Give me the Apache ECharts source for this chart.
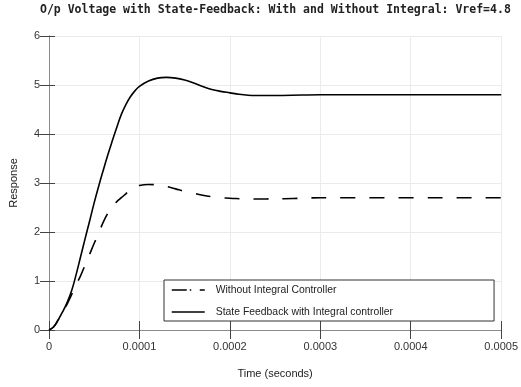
<!DOCTYPE html>
<html lang="en">
<head>
  <meta charset="UTF-8">
  <title>O/p Voltage with State-Feedback</title>
  <script src="https://cdn.jsdelivr.net/npm/echarts@6/dist/echarts.min.js"></script>
</head>
<body style="margin:0;background:#fff;">
  <div id="main" style="width:521px;height:387px;"></div>
<script>
  // time samples (seconds)
  const timeWithout = [0, 0.5e-5, 1.0e-5, 1.5e-5, 2.0e-5, 2.5e-5, 3.0e-5, 3.5e-5, 4.0e-5, 4.5e-5,
    5.0e-5, 5.5e-5, 6.0e-5, 6.5e-5, 7.0e-5, 7.5e-5, 8.0e-5, 8.5e-5, 9.0e-5, 9.5e-5,
    1.0e-4, 1.1e-4, 1.2e-4, 1.3e-4, 1.4e-4, 1.5e-4, 1.6e-4, 1.7e-4, 1.8e-4, 1.9e-4,
    2.0e-4, 2.2e-4, 2.4e-4, 2.6e-4, 2.8e-4, 3.0e-4, 5.0e-4];
  const respWithout = [0, 0.06, 0.20, 0.37, 0.53, 0.72, 0.92, 1.11, 1.33, 1.55,
    1.77, 1.98, 2.20, 2.38, 2.52, 2.62, 2.70, 2.78, 2.86, 2.91,
    2.95, 2.97, 2.96, 2.93, 2.88, 2.83, 2.79, 2.75, 2.72, 2.70,
    2.69, 2.675, 2.675, 2.68, 2.69, 2.70, 2.70];

  const timeWith = [0, 0.5e-5, 1.0e-5, 1.5e-5, 2.0e-5, 2.5e-5, 3.0e-5, 3.5e-5, 4.0e-5, 4.5e-5,
    5.0e-5, 5.5e-5, 6.0e-5, 6.5e-5, 7.0e-5, 7.5e-5, 8.0e-5, 8.5e-5, 9.0e-5, 9.5e-5,
    1.0e-4, 1.1e-4, 1.2e-4, 1.3e-4, 1.4e-4, 1.5e-4, 1.6e-4, 1.7e-4, 1.8e-4, 1.9e-4,
    2.0e-4, 2.1e-4, 2.2e-4, 2.3e-4, 2.5e-4, 2.8e-4, 3.0e-4, 5.0e-4];
  const respWith = [0, 0.06, 0.20, 0.37, 0.56, 0.80, 1.13, 1.50, 1.87, 2.23,
    2.60, 2.94, 3.26, 3.57, 3.86, 4.14, 4.40, 4.60, 4.76, 4.88,
    4.97, 5.08, 5.14, 5.155, 5.14, 5.10, 5.04, 4.97, 4.91, 4.87,
    4.84, 4.81, 4.79, 4.785, 4.785, 4.795, 4.80, 4.80];

  const seriesNames = ['Without Integral Controller', 'State Feedback with Integral controller'];

  const zip = (xs, ys) => xs.map((x, i) => [x, ys[i]]);

  const tickLabel = { color: '#333', fontSize: 11, fontFamily: 'Liberation Sans' };

  let myChart = echarts.init(document.getElementById('main'));
  let option = {
    animation: false,
    title: {
      text: 'O/p Voltage with State-Feedback: With and Without Integral: Vref=4.8',
      left: 35,
      top: -1,
      textStyle: { fontFamily: 'DejaVu Sans Mono', fontWeight: 'bold', fontSize: 11.5, color: '#222' }
    },
    grid: { left: 45, right: 17.5, top: 36, bottom: 57 },
    legend: {
      orient: 'vertical',
      left: 164,
      top: 280,
      padding: [5, 101, 4, 7],
      itemGap: 12,
      itemWidth: 33,
      itemHeight: 12,
      borderColor: '#333',
      borderWidth: 1,
      backgroundColor: '#fff',
      textStyle: { fontFamily: 'Liberation Sans', fontSize: 10.4, color: '#222', padding: [0, 0, 0, 6] },
      data: [
        { name: seriesNames[0], itemStyle: { opacity: 0 }, lineStyle: { type: [15, 3, 1.5, 8.5], width: 1.5, color: '#000' } },
        { name: seriesNames[1], itemStyle: { opacity: 0 }, lineStyle: { type: 'solid', width: 1.5, color: '#000' } }
      ]
    },
    xAxis: [{
      type: 'value',
      min: 0, max: 0.0005, interval: 0.0001,
      name: 'Time (seconds)', nameLocation: 'middle', nameGap: 38,
      nameTextStyle: { color: '#222', fontSize: 11, fontFamily: 'Liberation Sans' },
      axisLine: { lineStyle: { color: '#8a8a8a', width: 1 } },
      axisTick: { inside: true, length: 9, lineStyle: { color: '#444' } },
      axisLabel: { ...tickLabel, margin: 11, showMaxLabel: true, showMinLabel: true },
      splitLine: { show: true, lineStyle: { color: '#ebebeb' } }
    }, {
      type: 'value', position: 'top',
      min: 0, max: 0.0005, interval: 0.0001,
      axisLine: { show: true, lineStyle: { color: '#8a8a8a', width: 1 } },
      axisTick: { show: true, inside: true, length: 9, lineStyle: { color: '#444' } },
      axisLabel: { show: false },
      splitLine: { show: false }
    }],
    yAxis: [{
      type: 'value',
      min: 0, max: 6, interval: 1,
      name: 'Response', nameLocation: 'middle', nameGap: 30,
      nameTextStyle: { color: '#222', fontSize: 11, fontFamily: 'Liberation Sans' },
      axisLine: { show: true, lineStyle: { color: '#8a8a8a', width: 1 } },
      axisTick: { show: true, inside: true, length: 6, lineStyle: { color: '#444' } },
      axisLabel: { ...tickLabel, margin: 9 },
      splitLine: { show: true, lineStyle: { color: '#ebebeb' } }
    }, {
      type: 'value', position: 'right',
      min: 0, max: 6, interval: 1,
      axisLine: { show: true, lineStyle: { color: '#8a8a8a', width: 1 } },
      axisTick: { show: true, inside: true, length: 9, lineStyle: { color: '#444' } },
      axisLabel: { show: false },
      splitLine: { show: false }
    }],
    series: [{
      name: seriesNames[0],
      type: 'line',
      smooth: 0.4,
      symbol: 'none',
      data: zip(timeWithout, respWithout),
      lineStyle: { color: '#000', width: 1.6, type: [15, 14] },
      itemStyle: { color: '#000' },
      z: 3
    }, {
      name: seriesNames[1],
      type: 'line',
      smooth: 0.4,
      symbol: 'none',
      data: zip(timeWith, respWith),
      lineStyle: { color: '#000', width: 1.6, type: 'solid' },
      itemStyle: { color: '#000' },
      z: 3
    }]
  };
  myChart.setOption(option, true);
</script>
</body>
</html>
